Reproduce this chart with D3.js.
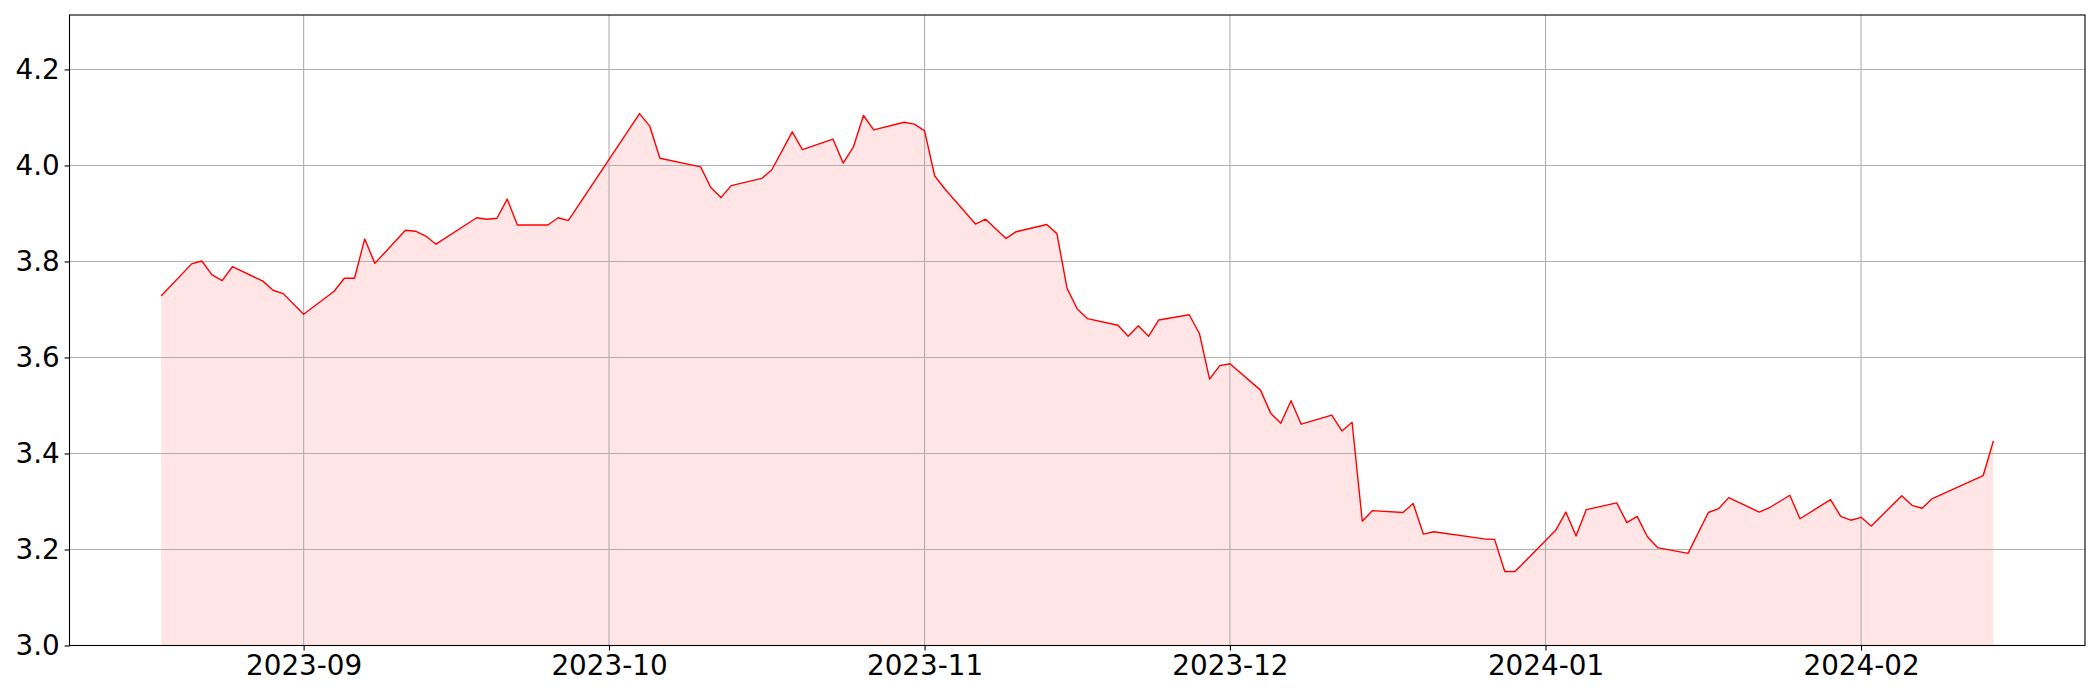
<!DOCTYPE html>
<html>
<head>
<meta charset="utf-8">
<script src="https://cdn.jsdelivr.net/npm/d3@7.9.0/dist/d3.min.js"></script>
<style>
    body { margin: 0; background: #fff; }
    svg { display: block; font-family: "DejaVu Sans", sans-serif; }
</style>
</head>
<body>
<svg width="2100" height="700"></svg>
<script>
// daily values
const dates = [
    "2023-08-18", "2023-08-21", "2023-08-22", "2023-08-23", "2023-08-24", "2023-08-25",
    "2023-08-28", "2023-08-29", "2023-08-30", "2023-09-01", "2023-09-04", "2023-09-05",
    "2023-09-06", "2023-09-07", "2023-09-08", "2023-09-11", "2023-09-12", "2023-09-13",
    "2023-09-14", "2023-09-18", "2023-09-19", "2023-09-20", "2023-09-21", "2023-09-22",
    "2023-09-25", "2023-09-26", "2023-09-27", "2023-10-04", "2023-10-05", "2023-10-06",
    "2023-10-10", "2023-10-11", "2023-10-12", "2023-10-13", "2023-10-16", "2023-10-17",
    "2023-10-19", "2023-10-20", "2023-10-23", "2023-10-24", "2023-10-25", "2023-10-26",
    "2023-10-27", "2023-10-30", "2023-10-31", "2023-11-01", "2023-11-02", "2023-11-03",
    "2023-11-06", "2023-11-07", "2023-11-09", "2023-11-10", "2023-11-13", "2023-11-14",
    "2023-11-15", "2023-11-16", "2023-11-17", "2023-11-20", "2023-11-21", "2023-11-22",
    "2023-11-23", "2023-11-24", "2023-11-27", "2023-11-28", "2023-11-29", "2023-11-30",
    "2023-12-01", "2023-12-04", "2023-12-05", "2023-12-06", "2023-12-07", "2023-12-08",
    "2023-12-11", "2023-12-12", "2023-12-13", "2023-12-14", "2023-12-15", "2023-12-18",
    "2023-12-19", "2023-12-20", "2023-12-21", "2023-12-26", "2023-12-27", "2023-12-28",
    "2023-12-29", "2024-01-02", "2024-01-03", "2024-01-04", "2024-01-05", "2024-01-08",
    "2024-01-09", "2024-01-10", "2024-01-11", "2024-01-12", "2024-01-15", "2024-01-17",
    "2024-01-18", "2024-01-19", "2024-01-22", "2024-01-23", "2024-01-25", "2024-01-26",
    "2024-01-29", "2024-01-30", "2024-01-31", "2024-02-01", "2024-02-02", "2024-02-05",
    "2024-02-06", "2024-02-07", "2024-02-08", "2024-02-13", "2024-02-14"
];

const values = [
    3.728, 3.795, 3.801, 3.772, 3.760, 3.789,
    3.759, 3.740, 3.733, 3.690, 3.738, 3.765,
    3.765, 3.847, 3.796, 3.865, 3.863, 3.853,
    3.836, 3.891, 3.888, 3.890, 3.930, 3.876,
    3.876, 3.891, 3.885, 4.108, 4.082, 4.015,
    3.997, 3.954, 3.933, 3.958, 3.973, 3.991,
    4.070, 4.033, 4.055, 4.005, 4.038, 4.104,
    4.074, 4.090, 4.086, 4.072, 3.978, 3.951,
    3.878, 3.888, 3.848, 3.862, 3.877, 3.858,
    3.744, 3.701, 3.681, 3.667, 3.644, 3.666,
    3.644, 3.678, 3.689, 3.650, 3.555, 3.583,
    3.587, 3.532, 3.484, 3.463, 3.510, 3.461,
    3.480, 3.447, 3.465, 3.259, 3.281, 3.277,
    3.296, 3.232, 3.237, 3.222, 3.221, 3.154,
    3.154, 3.240, 3.278, 3.228, 3.283, 3.297,
    3.256, 3.269, 3.227, 3.204, 3.192, 3.277,
    3.285, 3.308, 3.278, 3.287, 3.313, 3.264,
    3.304, 3.269, 3.261, 3.267, 3.249, 3.312,
    3.292, 3.286, 3.306, 3.354, 3.426
];

const yTicks = [3.0, 3.2, 3.4, 3.6, 3.8, 4.0, 4.2];
const xTicks = ["2023-09-01", "2023-10-01", "2023-11-01", "2023-12-01", "2024-01-01", "2024-02-01"];

let parseDate = d3.timeParse("%Y-%m-%d");
let data = dates.map((d, i) => ({ date: parseDate(d), value: values[i] }));

let svg = d3.select("svg");
let plotLeft = 69.5, plotRight = 2085, plotTop = 15, plotBottom = 645.5;

// x padded 5% on each side like matplotlib
let [x0, x1] = d3.extent(data, d => d.date);
let pad = (x1 - x0) * 0.05;
let x = d3.scaleTime()
    .domain([new Date(+x0 - pad), new Date(+x1 + pad)])
    .range([plotLeft, plotRight]);

let y = d3.scaleLinear()
    .domain([3.0, d3.max(values) * 1.05])
    .range([plotBottom, plotTop]);

// filled area under the line
let area = d3.area()
    .x(d => x(d.date))
    .y0(y(3.0))
    .y1(d => y(d.value));

svg.append("path")
    .datum(data)
    .attr("d", area)
    .attr("fill", "rgba(255,0,0,0.1)");

// grid lines
let grid = svg.append("g");
grid.selectAll(".vgrid")
    .data(xTicks.map(parseDate))
    .enter()
    .append("line")
    .attr("x1", d => x(d)).attr("x2", d => x(d))
    .attr("y1", plotTop).attr("y2", plotBottom)
    .attr("stroke", "#b0b0b0")
    .attr("stroke-width", 1.1);
grid.selectAll(".hgrid")
    .data(yTicks)
    .enter()
    .append("line")
    .attr("x1", plotLeft).attr("x2", plotRight)
    .attr("y1", d => y(d)).attr("y2", d => y(d))
    .attr("stroke", "#b0b0b0")
    .attr("stroke-width", 1.1);

// the line itself
let line = d3.line()
    .x(d => x(d.date))
    .y(d => y(d.value));

svg.append("path")
    .datum(data)
    .attr("d", line)
    .attr("fill", "none")
    .attr("stroke", "#ff0000")
    .attr("stroke-width", 1.4)
    .attr("stroke-linejoin", "round");

// axes
let xAxis = d3.axisBottom(x)
    .tickValues(xTicks.map(parseDate))
    .tickFormat(d3.timeFormat("%Y-%m"))
    .tickSizeOuter(0)
    .tickSize(4.9)
    .tickPadding(4.9);

let yAxis = d3.axisLeft(y)
    .tickValues(yTicks)
    .tickFormat(d3.format(".1f"))
    .tickSizeOuter(0)
    .tickSize(4.9)
    .tickPadding(4.9);

let gx = svg.append("g")
    .attr("transform", `translate(0,${plotBottom})`)
    .call(xAxis);
let gy = svg.append("g")
    .attr("transform", `translate(${plotLeft},0)`)
    .call(yAxis);

[gx, gy].forEach(g => {
    g.select(".domain").remove();
    g.selectAll("line").attr("stroke", "#000").attr("stroke-width", 1.1);
    g.selectAll("text")
        .attr("font-family", "DejaVu Sans")
        .attr("font-size", "27.8px")
        .attr("fill", "#000");
});

// frame around the plot
svg.append("rect")
    .attr("x", plotLeft).attr("y", plotTop)
    .attr("width", plotRight - plotLeft).attr("height", plotBottom - plotTop)
    .attr("fill", "none")
    .attr("stroke", "#000")
    .attr("stroke-width", 1.1);
</script>
</body>
</html>
